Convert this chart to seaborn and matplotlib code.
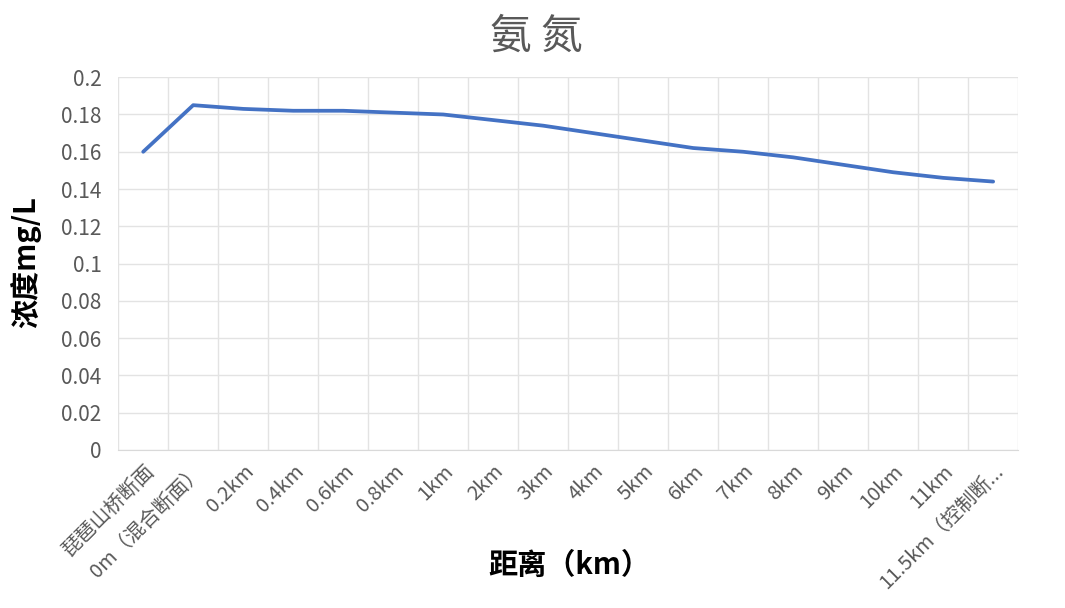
import matplotlib
matplotlib.use("Agg")
import matplotlib.pyplot as plt
import seaborn as sns
import pandas as pd
from matplotlib.ticker import FixedLocator

sites = ["琵琶山桥断面", "0m（混合断面）", "0.2km", "0.4km", "0.6km", "0.8km", "1km",
         "2km", "3km", "4km", "5km", "6km", "7km", "8km", "9km", "10km", "11km",
         "11.5km（控制断..."]
ammonia = [0.160, 0.185, 0.183, 0.182, 0.182, 0.181, 0.180, 0.177, 0.174, 0.170,
           0.166, 0.162, 0.160, 0.157, 0.153, 0.149, 0.146, 0.144]
yticks = [0, 0.02, 0.04, 0.06, 0.08, 0.1, 0.12, 0.14, 0.16, 0.18, 0.2]
ytick_labels = ["0", "0.02", "0.04", "0.06", "0.08", "0.1", "0.12", "0.14", "0.16", "0.18", "0.2"]

df = pd.DataFrame({"site": sites, "value": ammonia, "pos": range(len(sites))})

sns.set_style("white")
plt.rcParams["font.family"] = ["Noto Sans CJK SC", "DejaVu Sans"]

fig = plt.figure(figsize=(10.65, 6.08), dpi=100)
ax = fig.add_axes([0.111, 0.260, 0.845, 0.613])

sns.lineplot(data=df, x="pos", y="value", color="#4472C4", linewidth=2.7, ax=ax, sort=False)

ax.set_xlim(-0.5, len(sites) - 0.5)
ax.set_ylim(0, 0.2)
ax.set_xticks(range(len(sites)))
ax.set_xticklabels(sites, rotation=45, ha="right", rotation_mode="anchor",
                   fontsize=14.5, color="#595959")
ax.xaxis.set_minor_locator(FixedLocator([i - 0.5 for i in range(len(sites) + 1)]))
ax.set_yticks(yticks)
ax.set_yticklabels(ytick_labels, fontsize=15, color="#595959")
ax.tick_params(axis="both", which="both", length=0)
ax.tick_params(axis="x", pad=8)
ax.tick_params(axis="y", pad=12)

ax.grid(axis="y", which="major", color="#e3e3e3", linewidth=1)
ax.grid(axis="x", which="minor", color="#e3e3e3", linewidth=1)
ax.grid(axis="x", which="major", visible=False)
for name in ["top", "right", "left"]:
    ax.spines[name].set_visible(False)
ax.spines["bottom"].set_color("#d9d9d9")

ax.set_xlabel("")
ax.set_ylabel("")

fig.text(0.504, 0.939, "氨 氮", fontsize=30, color="#595959", ha="center", va="center")
fig.text(0.024, 0.569, "浓度mg/L", fontsize=21, fontweight="bold", color="black",
         rotation=90, ha="center", va="center")
fig.text(0.535, 0.071, "距离（km）", fontsize=21, fontweight="bold", color="black",
         ha="center", va="center")

fig.savefig("out.png", dpi=100, facecolor="white")
